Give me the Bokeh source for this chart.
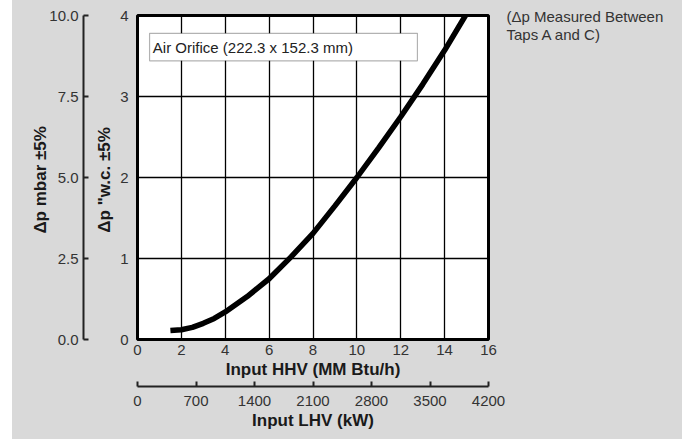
from bokeh.plotting import figure
from bokeh.models import (LinearAxis, Range1d, FixedTicker, PrintfTickFormatter,
                          BoxAnnotation, Label, ColumnDataSource)
from bokeh.embed import file_html
from bokeh.resources import INLINE

# ---- data ----
input_hhv = [1.5, 2.0, 2.5, 3.0, 3.5, 4.0, 5.0, 6.0, 7.0, 8.0, 9.0, 10.0, 11.0, 12.0, 13.0, 14.0, 14.95]
dp_wc = [0.11, 0.12, 0.15, 0.20, 0.26, 0.34, 0.53, 0.75, 1.02, 1.31, 1.65, 2.0, 2.37, 2.75, 3.15, 3.57, 4.0]

hhv_ticks = [0, 2, 4, 6, 8, 10, 12, 14, 16]
wc_ticks = [0, 1, 2, 3, 4]
mbar_ticks = [0, 2.5, 5.0, 7.5, 10.0]
lhv_ticks = [0, 700, 1400, 2100, 2800, 3500, 4200]

note_lines = ["(\u0394p Measured Between", "Taps A and C)"]
box_text = "Air Orifice (222.3 x 152.3 mm)"

FONT = "Liberation Sans"
BG = "#d9d9d9"
TICK_COLOR = "#333333"
LABEL_COLOR = "#1a1a1a"

p = figure(width=682, height=439, output_backend="svg", toolbar_location=None,
           x_range=Range1d(0, 16), y_range=Range1d(0, 4),
           x_axis_location=None, y_axis_location=None,
           min_border_left=137, min_border_right=194,
           min_border_top=15, min_border_bottom=100)
# border area transparent; the element's CSS background gives the grey panel
# with the thin white strip at the far left
p.border_fill_color = None
p.styles = {"background": "linear-gradient(to right, #ffffff 0px, #ffffff 12px, %s 12px, %s 100%%)" % (BG, BG)}
p.background_fill_color = "white"
p.outline_line_color = "black"
p.outline_line_width = 3

# frame spans 324 px vertically; the "note" range puts one unit = 18 px
p.extra_y_ranges = {"mbar": Range1d(0, 10), "note": Range1d(2 - 323 / 18, 2 + 1 / 18)}
p.extra_x_ranges = {"lhv": Range1d(0, 4200)}


def style(ax, size="15px"):
    ax.major_label_text_font = FONT
    ax.major_label_text_font_size = size
    ax.major_label_text_color = TICK_COLOR
    ax.axis_label_text_font = FONT
    ax.axis_label_text_font_size = "17px"
    ax.axis_label_text_font_style = "bold"
    ax.axis_label_text_color = LABEL_COLOR
    ax.minor_tick_line_color = None
    ax.minor_tick_out = 0
    ax.minor_tick_in = 0


def spacer(size, tick, **kw):
    ax = LinearAxis(ticker=FixedTicker(ticks=[tick]), axis_line_color=None,
                    major_tick_line_color=None, major_tick_out=size, major_tick_in=0,
                    minor_tick_out=0, minor_tick_in=0, minor_tick_line_color=None,
                    major_label_standoff=0, major_label_text_font_size="1px",
                    major_label_text_color=None, **kw)
    return ax


# left axes (closest to frame first)
wc_axis = LinearAxis(ticker=FixedTicker(ticks=wc_ticks), axis_label='\u0394p "w.c.  \u00b15%')
style(wc_axis)
wc_axis.axis_line_color = None
wc_axis.major_tick_line_color = None
wc_axis.major_tick_out = 0
wc_axis.major_tick_in = 0
wc_axis.major_label_standoff = 9
wc_axis.axis_label_standoff = 3
p.add_layout(wc_axis, "left")

p.add_layout(spacer(9, 2), "left")

mbar_axis = LinearAxis(y_range_name="mbar", ticker=FixedTicker(ticks=mbar_ticks),
                       formatter=PrintfTickFormatter(format="%.1f"),
                       axis_label="\u0394p mbar  \u00b15%")
style(mbar_axis)
mbar_axis.axis_line_color = "#222222"
mbar_axis.axis_line_width = 2
mbar_axis.major_tick_line_color = "#222222"
mbar_axis.major_tick_line_width = 2
mbar_axis.major_tick_out = 0
mbar_axis.major_tick_in = 5
mbar_axis.major_label_standoff = 5
mbar_axis.axis_label_standoff = -4
p.add_layout(mbar_axis, "left")

# right side note, drawn as the labels of an otherwise invisible axis
note_axis = LinearAxis(y_range_name="note", ticker=FixedTicker(ticks=[1, 2]),
                       major_label_overrides={2: note_lines[0], 1: note_lines[1]})
style(note_axis)
note_axis.axis_line_color = None
note_axis.major_tick_line_color = None
note_axis.major_tick_out = 0
note_axis.major_tick_in = 0
note_axis.major_label_standoff = 18
p.add_layout(note_axis, "right")

# bottom axes
hhv_axis = LinearAxis(ticker=FixedTicker(ticks=hhv_ticks), axis_label="Input HHV (MM Btu/h)")
style(hhv_axis)
hhv_axis.axis_line_color = None
hhv_axis.major_tick_line_color = None
hhv_axis.major_tick_out = 0
hhv_axis.major_tick_in = 0
hhv_axis.major_label_standoff = 5
hhv_axis.axis_label_standoff = 2
p.add_layout(hhv_axis, "below")

p.add_layout(spacer(5, 8), "below")

lhv_axis = LinearAxis(x_range_name="lhv", ticker=FixedTicker(ticks=lhv_ticks),
                      axis_label="Input LHV (kW)")
style(lhv_axis)
lhv_axis.axis_line_color = "#222222"
lhv_axis.axis_line_width = 2
lhv_axis.major_tick_line_color = "#222222"
lhv_axis.major_tick_line_width = 2
lhv_axis.major_tick_out = 0
lhv_axis.major_tick_in = 5
lhv_axis.major_label_standoff = 9
lhv_axis.axis_label_standoff = 2
p.add_layout(lhv_axis, "below")

# grid
p.xgrid.ticker = FixedTicker(ticks=hhv_ticks)
p.ygrid.ticker = FixedTicker(ticks=wc_ticks)
for g in (p.xgrid, p.ygrid):
    g.grid_line_color = "black"
    g.grid_line_width = 1.3
    g.grid_line_alpha = 1.0

# curve
src = ColumnDataSource(dict(hhv=input_hhv, dp=dp_wc))
p.line("hhv", "dp", source=src, line_color="black", line_width=5.5, line_cap="butt")

# label box
p.add_layout(BoxAnnotation(left=0.55, right=12.76, bottom=3.44, top=3.78,
                           fill_color="white", fill_alpha=1.0,
                           line_color="black", line_width=1.2))
p.add_layout(Label(x=0.7, y=3.61, text=box_text, text_baseline="middle",
                   text_align="left", text_font=FONT, text_font_size="15px",
                   text_color="#222222"))

open("out.html", "w").write(file_html(p, INLINE))
